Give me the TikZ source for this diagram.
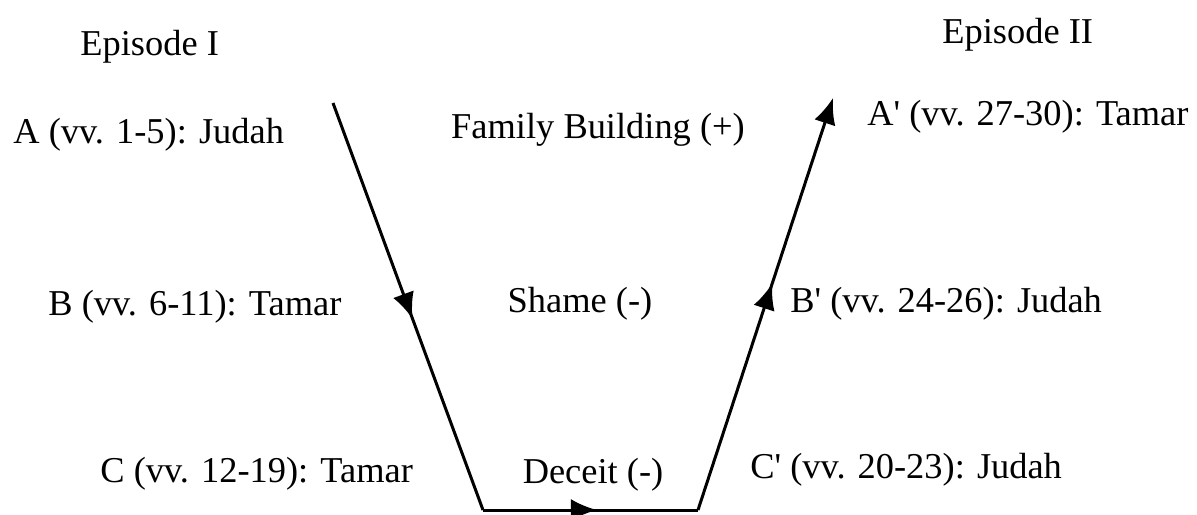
\documentclass[tikz,border=0pt]{standalone}
\usepackage{fontspec}
\setmainfont{Liberation Serif}
\usetikzlibrary{arrows.meta, decorations.markings}
\tikzset{
    objLabel/.style={inner sep=0pt, anchor=base west, font=\fontsize{18.2}{22}\selectfont},
    objTheme/.style={inner sep=0pt, anchor=base, font=\fontsize{18.2}{22}\selectfont},
    line/.style={line width=1.5pt},
    midArrow/.style={line, postaction={decorate}, decoration={markings, mark=at position #1 with {\arrow{Latex[length=13pt, width=11pt]}}}},
    arrow/.style={line, -{Latex[length=13pt, width=11pt]}}
}
\begin{document}
\begin{tikzpicture}[x=0.5pt, y=-0.5pt]
    \useasboundingbox (0,0) rectangle (1197,514);

    \node (ep1) [objLabel] at (80,55) {Episode I};
    \node (ep2) [objLabel] at (942,43) {Episode II};

    \node (a1) [objLabel] at (13,143) {A (vv. 1-5): Judah};
    \node (b1) [objLabel] at (48,315) {B (vv. 6-11): Tamar};
    \node (c1) [objLabel] at (100,482) {C (vv. 12-19): Tamar};

    \node (fam) [objTheme] at (598,138) {Family Building (+)};
    \node (sha) [objTheme] at (580,312) {Shame (-)};
    \node (dec) [objTheme] at (593,483) {Deceit (-)};

    \node (a2) [objLabel] at (867,125) {A\textquotesingle{} (vv. 27-30): Tamar};
    \node (b2) [objLabel] at (790,312) {B\textquotesingle{} (vv. 24-26): Judah};
    \node (c2) [objLabel] at (750,478) {C\textquotesingle{} (vv. 20-23): Judah};

    \coordinate (p0) at (333,103);
    \coordinate (p1) at (483,510);
    \coordinate (p2) at (698,510);
    \coordinate (p3) at (833,98);

    \draw[midArrow=0.53] (p0) -- (p1);
    \draw[midArrow=0.53] (p1) -- (p2);
    \draw[midArrow=0.55, arrow] (p2) -- (p3);

\end{tikzpicture}
\end{document}
